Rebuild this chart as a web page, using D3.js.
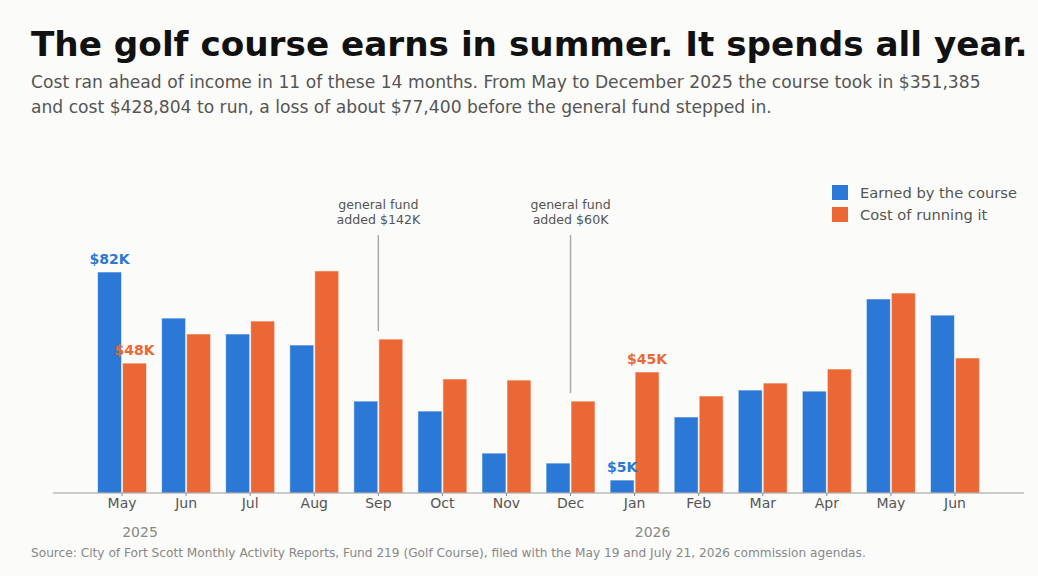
<!DOCTYPE html>
<html>
<head>
<meta charset="utf-8">
<script src="https://cdn.jsdelivr.net/npm/d3@7"></script>
<style>
  html, body { margin: 0; padding: 0; background: #fbfbf9; }
  svg { display: block; font-family: "DejaVu Sans", sans-serif; }
</style>
</head>
<body>
<svg id="chart" width="1038" height="576"></svg>
<script>
// ---- data ----
const months = ["May","Jun","Jul","Aug","Sep","Oct","Nov","Dec","Jan","Feb","Mar","Apr","May","Jun"];
const earned = [82.0, 64.9, 59.0, 54.9, 34.1, 30.4, 14.8, 11.1, 4.8, 28.2, 38.2, 37.8, 72.0, 66.0];
const cost   = [48.2, 59.0, 63.8, 82.4, 57.1, 42.3, 41.9, 34.1, 44.9, 36.0, 40.8, 46.0, 74.2, 50.1];
const seriesNames = ["Earned by the course", "Cost of running it"];
const seriesColors = ["#2b78d6", "#eb6835"];
const years = [{idx: 0, label: "2025"}, {idx: 8, label: "2026"}];
const valueLabels = [
  {idx: 0, series: 0, text: "$82K"},
  {idx: 0, series: 1, text: "$48K"},
  {idx: 8, series: 0, text: "$5K"},
  {idx: 8, series: 1, text: "$45K"}
];
const annotations = [
  {idx: 4, lines: ["general fund", "added $142K"]},
  {idx: 7, lines: ["general fund", "added $60K"]}
];
const titleText = "The golf course earns in summer. It spends all year.";
const subtitleLines = [
  "Cost ran ahead of income in 11 of these 14 months. From May to December 2025 the course took in $351,385",
  "and cost $428,804 to run, a loss of about $77,400 before the general fund stepped in."
];
const sourceText = "Source: City of Fort Scott Monthly Activity Reports, Fund 219 (Golf Course), filed with the May 19 and July 21, 2026 commission agendas.";

// ---- layout ----
const svg = d3.select("#chart");
svg.append("rect").attr("width", 1038).attr("height", 576).attr("fill", "#fbfbf9");

const baseY = 493;
const idx = d3.range(months.length);
const x = d3.scaleBand().domain(idx).range([90, 987]).paddingInner(0.22).paddingOuter(0.11);
const xs = d3.scaleBand().domain([0, 1]).range([0, x.bandwidth()]).padding(0);
const y = d3.scaleLinear().domain([0, 100]).range([baseY, baseY - 269.5]);

const data = idx.map(i => ({i, vals: [earned[i], cost[i]]}));

// bars
const g = svg.append("g");
const groups = g.selectAll("g.grp").data(data).join("g")
  .attr("transform", d => `translate(${x(d.i)},0)`);
groups.selectAll("rect").data(d => d.vals.map((v, s) => ({v, s}))).join("rect")
  .attr("x", d => xs(d.s) + 0.5)
  .attr("width", xs.bandwidth() - 1)
  .attr("y", d => y(d.v))
  .attr("height", d => y(0) - y(d.v))
  .attr("fill", d => seriesColors[d.s])
  .attr("stroke", "#ffffff")
  .attr("stroke-opacity", 0.55)
  .attr("stroke-width", 1);

// axis
const axis = d3.axisBottom(x).tickSize(3).tickPadding(2).tickFormat(i => months[i]);
const ax = svg.append("g").attr("transform", `translate(0,${baseY})`).call(axis);
ax.select(".domain").remove();
ax.selectAll(".tick line").attr("stroke", "#888");
ax.selectAll(".tick text").attr("fill", "#555").attr("font-size", 14).attr("font-family", "DejaVu Sans");
svg.append("line").attr("x1", 53).attr("x2", 1024).attr("y1", baseY).attr("y2", baseY)
  .attr("stroke", "#9a9a9a").attr("stroke-width", 1);

// year labels
svg.selectAll("text.year").data(years).join("text")
  .attr("x", d => x(d.idx) + x.bandwidth() / 2 + 18)
  .attr("y", 537)
  .attr("text-anchor", "middle")
  .attr("font-size", 14).attr("fill", "#888")
  .text(d => d.label);

// value labels
svg.selectAll("text.vl").data(valueLabels).join("text")
  .attr("x", d => x(d.idx) + xs(d.series) + xs.bandwidth() / 2)
  .attr("y", d => y(d.series === 0 ? earned[d.idx] : cost[d.idx]) - 8)
  .attr("text-anchor", "middle")
  .attr("font-size", 14).attr("font-weight", "bold")
  .attr("fill", d => seriesColors[d.series])
  .text(d => d.text);

// annotations
annotations.forEach(a => {
  const cx = x(a.idx) + x.bandwidth() / 2;
  const top = Math.max(earned[a.idx], cost[a.idx]);
  svg.append("line").attr("x1", cx).attr("x2", cx)
    .attr("y1", 235).attr("y2", y(top) - 8)
    .attr("stroke", "#aaaaaa").attr("stroke-width", 1.5);
  const t = svg.append("text").attr("x", cx).attr("text-anchor", "middle")
    .attr("font-size", 12.6).attr("fill", "#555");
  a.lines.forEach((l, k) => t.append("tspan").attr("x", cx).attr("y", 209 + k * 15).text(l));
});

// legend
const lg = svg.append("g");
seriesNames.forEach((n, k) => {
  lg.append("rect").attr("x", 832).attr("y", 185 + k * 22).attr("width", 16).attr("height", 15)
    .attr("fill", seriesColors[k]);
  lg.append("text").attr("x", 860).attr("y", 198 + k * 22)
    .attr("font-size", 14.7).attr("fill", "#555").text(n);
});

// titles
const title = svg.append("text").attr("x", 31).attr("y", 56)
  .attr("font-size", 35).attr("font-weight", "bold").attr("fill", "#111")
  .text(titleText);
const tw = title.node().getComputedTextLength();
if (tw > 0) title.attr("font-size", 35 * 997 / tw);
subtitleLines.forEach((l, k) => {
  svg.append("text").attr("x", 31).attr("y", 88 + k * 25)
    .attr("font-size", 17.15).attr("fill", "#555").text(l);
});
const src = svg.append("text").attr("x", 31).attr("y", 557)
  .attr("font-size", 12).attr("fill", "#888").text(sourceText);
const sw = src.node().getComputedTextLength();
if (sw > 0) src.attr("font-size", 12 * 836 / sw);
</script>
</body>
</html>
